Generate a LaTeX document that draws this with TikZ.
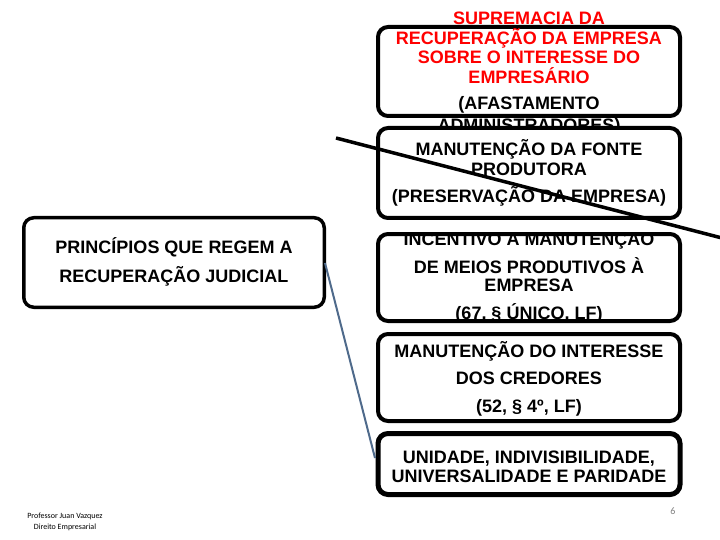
\documentclass[tikz,border=0pt]{standalone}
\usepackage{fontspec}
\setmainfont{Liberation Sans}
\newfontfamily\footfont{Carlito}
\begin{document}
\begin{tikzpicture}[x=1pt,y=-1pt,
  box/.style={draw=black,line width=4pt,rounded corners=10pt,fill=white,inner sep=0pt,outer sep=0pt,minimum width=302pt},
  txt/.style={font=\fontsize{18}{18}\selectfont\bfseries,anchor=base,inner sep=0pt},
  redtxt/.style={txt,text=red}]
\useasboundingbox (0,0) rectangle (720,540);
\fill[white] (0,0) rectangle (720,540);
% overflow line of box 1, mostly hidden by the boxes
\node[txt] (t16) at (529,132) {ADMINISTRADORES)};
% box 1
\node[box,minimum height=89pt] (b1) at (529,71.5) {};
\node[redtxt] (t11) at (529,25) {SUPREMACIA DA};
\node[redtxt] (t12) at (529,44.5) {RECUPERAÇÃO DA EMPRESA};
\node[redtxt] (t13) at (529,64) {SOBRE O INTERESSE DO};
\node[redtxt] (t14) at (529,83.5) {EMPRESÁRIO};
\node[txt] (t15) at (529,110) {(AFASTAMENTO};
% box 2
\node[box,minimum height=90pt] (b2) at (529,173) {};
\node[txt] (t21) at (529,156) {MANUTENÇÃO DA FONTE};
\node[txt] (t22) at (529,176) {PRODUTORA};
\node[txt] (t23) at (529,203) {(PRESERVAÇÃO DA EMPRESA)};
% box 3
\node[box,minimum height=87pt] (b3) at (529,277.5) {};
\node[txt] (t31) at (529,245) {INCENTIVO A MANUTENÇAO};
\node[txt] (t32) at (529,273) {DE MEIOS PRODUTIVOS À};
\node[txt] (t33) at (529,291.5) {EMPRESA};
\node[txt] (t34) at (529,319) {(67, § ÚNICO, LF)};
% box 4
\node[box,minimum height=87pt] (b4) at (529,377.5) {};
\node[txt] (t41) at (529,357) {MANUTENÇÃO DO INTERESSE};
\node[txt] (t42) at (529,384.5) {DOS CREDORES};
\node[txt] (t43) at (529,412) {(52, § 4º, LF)};
% box 5
\node[box,line width=5pt,minimum height=61pt] (b5) at (529,464) {};
\node[txt] (t51) at (529,463.5) {UNIDADE, INDIVISIBILIDADE,};
\node[txt] (t52) at (529,482.5) {UNIVERSALIDADE E PARIDADE};
% left box
\node[box,line width=3.5pt,minimum width=300.5pt,minimum height=89.5pt] (lb) at (174,262.5) {};
\node[txt] (l1) at (174,254) {PRINCÍPIOS QUE REGEM A};
\node[txt] (l2) at (174,282) {RECUPERAÇÃO JUDICIAL};
% connectors
\coordinate (ls) at (325,263);
\coordinate (le) at (375,458);
\draw[line width=2pt,color={rgb,255:red,79;green,106;blue,139}] (ls) -- (le);
\coordinate (xs) at (336,138);
\coordinate (xe) at (722,238);
\draw[line width=3.5pt,black] (xs) -- (xe);
% footer
\node[font=\footfont\fontsize{8}{10.5}\selectfont,align=center,inner sep=0pt] (ft) at (65,522) {Professor Juan Vazquez\\Direito Empresarial};
\node[font=\footfont\fontsize{10}{10}\selectfont,text=gray,inner sep=0pt] (pg) at (673,511) {6};
\end{tikzpicture}
\end{document}
